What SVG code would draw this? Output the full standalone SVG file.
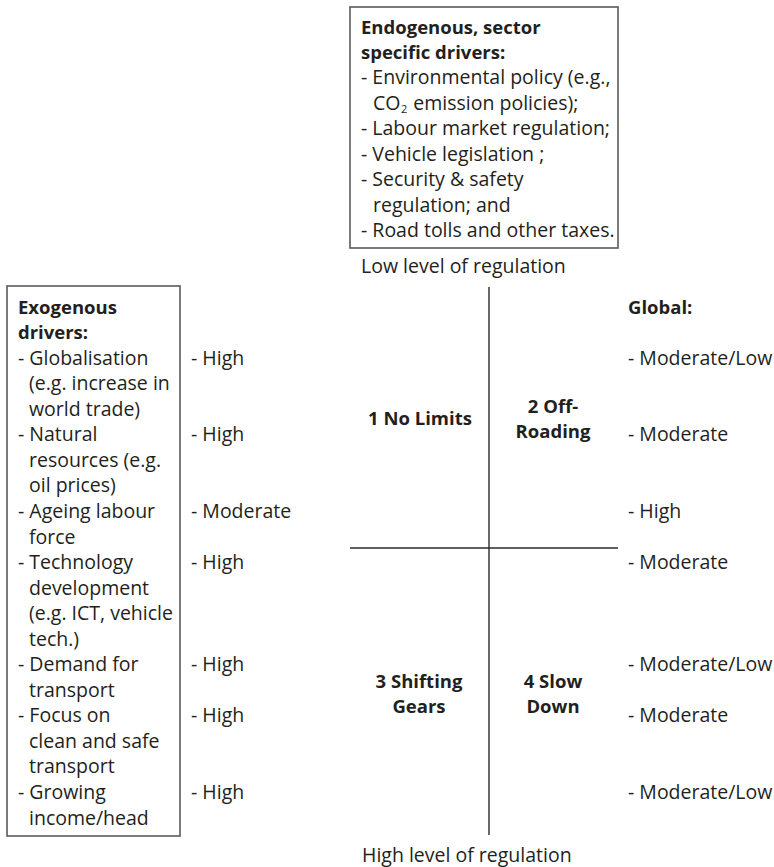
<svg xmlns="http://www.w3.org/2000/svg" width="774" height="867" viewBox="0 0 774 867">
<style>
text{font-family:"Open Sans","Liberation Sans",sans-serif;font-size:19.5px;fill:#231f20}
.b{font-weight:bold;font-size:18.5px}
.c{text-anchor:middle}
.box{fill:none;stroke:#5a5a5a;stroke-width:1.6}
.axis{stroke:#2a2a2a;stroke-width:1.4;fill:none}
.sub{font-size:11px}
</style>
<rect width="774" height="867" fill="#fff"/>
<g id="endogenous">
<rect class="box" x="350" y="7" width="268" height="241"/>
<text class="b" x="361" y="33.5">Endogenous, sector</text>
<text class="b" x="361" y="59">specific drivers:</text>
<text x="361" y="84.4">- Environmental policy (e.g.,</text>
<text x="373" y="109.9">CO<tspan class="sub" dx="0.5" dy="3">2</tspan><tspan dx="1" dy="-3"> emission policies);</tspan></text>
<text x="361" y="135.3">- Labour market regulation;</text>
<text x="361" y="160.8">- Vehicle legislation ;</text>
<text x="361" y="186.2">- Security &amp; safety</text>
<text x="373" y="211.7">regulation; and</text>
<text x="361" y="237.1">- Road tolls and other taxes.</text>
</g>
<g id="exogenous">
<rect class="box" x="7" y="286" width="173" height="550"/>
<text class="b" x="18" y="313.5">Exogenous</text>
<text class="b" x="18" y="339">drivers:</text>
<text x="18" y="364.6">- Globalisation</text>
<text x="29" y="390.2">(e.g. increase in</text>
<text x="29" y="415.7">world trade)</text>
<text x="18" y="441.3">- Natural</text>
<text x="29" y="466.8">resources (e.g.</text>
<text x="29" y="492.4">oil prices)</text>
<text x="18" y="517.9">- Ageing labour</text>
<text x="29" y="543.5">force</text>
<text x="18" y="569">- Technology</text>
<text x="29" y="594.6">development</text>
<text x="29" y="620.1">(e.g. ICT, vehicle</text>
<text x="29" y="645.7">tech.)</text>
<text x="18" y="671.2">- Demand for</text>
<text x="29" y="696.8">transport</text>
<text x="18" y="722.3">- Focus on</text>
<text x="29" y="747.9">clean and safe</text>
<text x="29" y="773.4">transport</text>
<text x="18" y="799">- Growing</text>
<text x="29" y="824.5">income/head</text>
</g>
<g id="exogenous-levels">
<text x="191" y="364.6">- High</text>
<text x="191" y="441.3">- High</text>
<text x="191" y="517.9">- Moderate</text>
<text x="191" y="569">- High</text>
<text x="191" y="671.2">- High</text>
<text x="191" y="722.3">- High</text>
<text x="191" y="799">- High</text>
</g>
<g id="connectors">
<line class="axis" x1="489" y1="287" x2="489" y2="835"/>
<line class="axis" x1="350" y1="548" x2="618" y2="548"/>
</g>
<g id="axis-labels">
<text x="361" y="273">Low level of regulation</text>
<text x="362" y="862">High level of regulation</text>
</g>
<g id="q1"><text class="b c" x="420" y="425">1 No Limits</text></g>
<g id="q2"><text class="b c" x="553" y="413">2 Off-</text><text class="b c" x="553" y="438">Roading</text></g>
<g id="q3"><text class="b c" x="419" y="688">3 Shifting</text><text class="b c" x="419" y="713">Gears</text></g>
<g id="q4"><text class="b c" x="553" y="688">4 Slow</text><text class="b c" x="553" y="713">Down</text></g>
<g id="global">
<text class="b" x="628" y="313.5">Global:</text>
<text x="628" y="364.6">- Moderate/Low</text>
<text x="628" y="441.3">- Moderate</text>
<text x="628" y="517.9">- High</text>
<text x="628" y="569">- Moderate</text>
<text x="628" y="671.2">- Moderate/Low</text>
<text x="628" y="722.3">- Moderate</text>
<text x="628" y="799">- Moderate/Low</text>
</g>
</svg>
